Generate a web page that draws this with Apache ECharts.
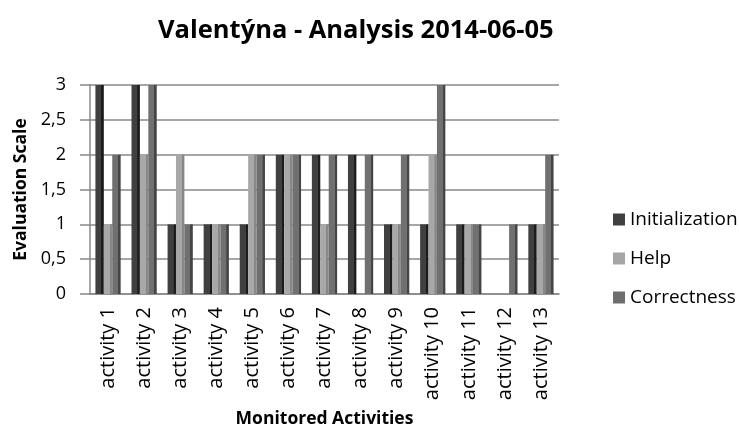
<!DOCTYPE html>
<html>
<head>
<meta charset="utf-8">
<script src="https://cdn.jsdelivr.net/npm/echarts@6/dist/echarts.min.js"></script>
<style>
  html, body { margin: 0; padding: 0; background: #fff; }
  #myChart { width: 739px; height: 430px; }
</style>
</head>
<body>
<div id="myChart"></div>
<script>
const categories = ['activity 1', 'activity 2', 'activity 3', 'activity 4', 'activity 5', 'activity 6', 'activity 7',
  'activity 8', 'activity 9', 'activity 10', 'activity 11', 'activity 12', 'activity 13'];
const initialization = [3, 3, 1, 1, 1, 2, 2, 2, 1, 1, 1, 0, 1];
const help = [1, 2, 2, 1, 2, 2, 1, 0, 1, 2, 1, 0, 1];
const correctness = [2, 3, 1, 1, 2, 2, 2, 2, 2, 3, 1, 1, 2];
const yTicks = [0, 0.5, 1, 1.5, 2, 2.5, 3];

// bar shading: face colour, darker right side like the 3D bars
function shade(face, side) {
  return {
    type: 'linear', x: 0, y: 0, x2: 1, y2: 0,
    colorStops: [
      { offset: 0, color: face },
      { offset: 0.7, color: face },
      { offset: 0.72, color: side },
      { offset: 1, color: side }
    ]
  };
}

const font = '"Open Sans", "Liberation Sans", sans-serif';

let myChart = echarts.init(document.getElementById('myChart'));
let option = {
  backgroundColor: '#fff',
  animation: false,
  title: {
    text: 'Valentýna - Analysis 2014-06-05',
    left: 153,
    top: 13,
    textStyle: { fontFamily: font, fontSize: 25.5, fontWeight: 'bold', color: '#000' }
  },
  legend: {
    orient: 'vertical',
    left: 608,
    top: 205,
    itemGap: 20,
    itemWidth: 12,
    itemHeight: 12,
    icon: 'rect',
    textStyle: { fontFamily: font, fontSize: 19, color: '#000' },
    data: [
      { name: 'Initialization', itemStyle: { color: '#404040' } },
      { name: 'Help', itemStyle: { color: '#a6a6a6' } },
      { name: 'Correctness', itemStyle: { color: '#6e6e6e' } }
    ]
  },
  grid: { left: 90, right: 180, top: 85, bottom: 136, outerBoundsMode: 'none' },
  xAxis: {
    type: 'category',
    data: categories,
    name: 'Monitored Activities',
    nameLocation: 'middle',
    nameGap: 116,
    nameTextStyle: { fontFamily: font, fontSize: 17.5, fontWeight: 'bold', color: '#000' },
    axisLine: { lineStyle: { color: '#888', width: 1.5 } },
    axisTick: { show: false },
    axisLabel: { rotate: 90, fontFamily: font, fontSize: 20, color: '#000', margin: 13 }
  },
  yAxis: {
    type: 'value',
    min: 0,
    max: 3,
    interval: 0.5,
    name: 'Evaluation Scale',
    nameLocation: 'middle',
    nameGap: 60,
    nameTextStyle: { fontFamily: font, fontSize: 17.5, fontWeight: 'bold', color: '#000' },
    axisLine: { show: true, lineStyle: { color: '#888', width: 1.5 } },
    axisTick: { show: true, length: 10, lineStyle: { color: '#888', width: 1.5 } },
    axisLabel: {
      fontFamily: font, fontSize: 18, color: '#000', margin: 24,
      formatter: v => yTicks.indexOf(v) >= 0 ? String(v).replace('.', ',') : ''
    },
    splitLine: { lineStyle: { color: '#888', width: 1.5 } }
  },
  series: [
    {
      name: 'Initialization', type: 'bar', data: initialization,
      barGap: '0%', barCategoryGap: '30%',
      itemStyle: { color: shade('#404040', '#1c1c1c') }
    },
    {
      name: 'Help', type: 'bar', data: help,
      itemStyle: { color: shade('#a8a8a8', '#888') }
    },
    {
      name: 'Correctness', type: 'bar', data: correctness,
      itemStyle: { color: shade('#707070', '#454545') }
    }
  ]
};
myChart.setOption(option, true);
</script>
</body>
</html>
